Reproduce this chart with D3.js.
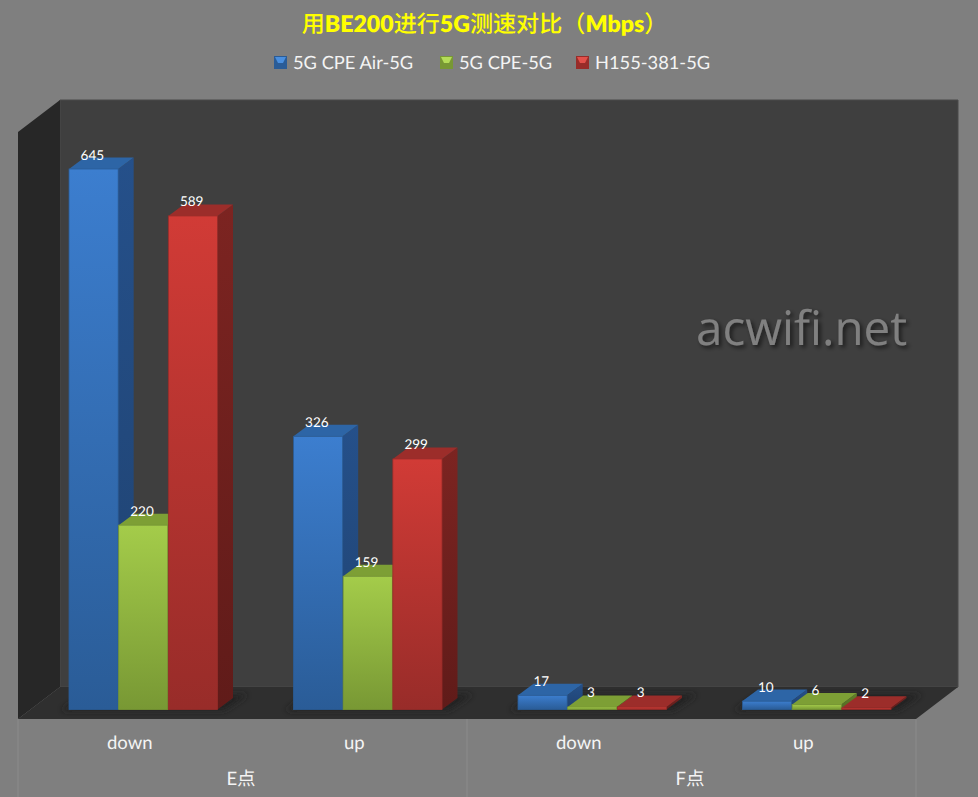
<!DOCTYPE html>
<html><head><meta charset="utf-8">
<script src="https://cdn.jsdelivr.net/npm/d3@7/dist/d3.min.js"></script>
<style>html,body{margin:0;padding:0;background:#7f7f7f;overflow:hidden}svg{display:block}
text{font-family:Lato,"Noto Sans CJK SC",sans-serif;text-rendering:geometricPrecision}</style></head><body>
<div id="chart"></div>
<script>
const categories=["down","up","down","up"];
const groups=["E点","F点"];
const seriesNames=["5G CPE Air-5G","5G CPE-5G","H155-381-5G"];
const airValues=[645,326,17,10];
const cpeValues=[220,159,3,6];
const h155Values=[589,299,3,2];
const chartTitle="用BE200进行5G测速对比（Mbps）";
const watermark="acwifi.net";

const W=978,H=797;
const L=18,R=916,FRONT=719,BASE=709.5,DX=42,DY=32,TOP=132,BDX=15.5,BDY=11.5;
const pal=[
 {id:"b",top:"#3c7ecf",bot:"#2a5c97",cap:"#2d65a6",sideT:"#25508a",sideB:"#1f4270",hi:"#4a8fdf"},
 {id:"g",top:"#a4cc4a",bot:"#789834",cap:"#7d9f35",sideT:"#637f2a",sideB:"#536b23",hi:"#b4dc58"},
 {id:"r",top:"#d13b36",bot:"#982c29",cap:"#9c2d2a",sideT:"#7c2421",sideB:"#601b19",hi:"#e2504a"}];
const values=[airValues,cpeValues,h155Values];

const svg=d3.select("#chart").append("svg").attr("width",W).attr("height",H);
svg.append("rect").attr("width",W).attr("height",H).attr("fill","#7f7f7f");
const defs=svg.append("defs");
function grad(id,a,b){const g=defs.append("linearGradient").attr("id",id).attr("x1",0).attr("y1",0).attr("x2",0).attr("y2",1);
 g.append("stop").attr("offset",0).attr("stop-color",a);g.append("stop").attr("offset",1).attr("stop-color",b);}
pal.forEach(p=>{grad("f"+p.id,p.top,p.bot);grad("s"+p.id,p.sideT,p.sideB);});
defs.append("filter").attr("id","blur").attr("x","-20%").attr("y","-100%").attr("width","140%").attr("height","300%")
 .append("feGaussianBlur").attr("stdDeviation",3);
const ds=defs.append("filter").attr("id","wm").attr("x","-10%").attr("y","-30%").attr("width","120%").attr("height","160%");
ds.append("feDropShadow").attr("dx",2.5).attr("dy",2.5).attr("stdDeviation",2).attr("flood-color","#000").attr("flood-opacity",.6);

const x0=d3.scaleBand().domain(d3.range(categories.length)).range([L,R]);
const x1=d3.scaleBand().domain(d3.range(seriesNames.length)).range([51,200]);
const y=d3.scaleLinear().domain([0,645]).range([BASE,169]);
const poly=pts=>"M"+pts.map(p=>p.join(",")).join("L")+"Z";

// walls and floor
svg.append("path").attr("d",poly([[L+DX,TOP-DY],[R+DX,TOP-DY],[R+DX,FRONT-DY],[L+DX,FRONT-DY]])).attr("fill","#3f3f3f").attr("stroke","#4b4b4b").attr("stroke-width",1);
svg.append("path").attr("d",poly([[L,TOP],[L+DX,TOP-DY],[L+DX,FRONT-DY],[L,FRONT]])).attr("fill","#272727");
svg.append("path").attr("d",poly([[L,FRONT],[L+DX,FRONT-DY],[R+DX,FRONT-DY],[R,FRONT]])).attr("fill","#2f2f2f");

// floor shadows
svg.append("g").attr("filter","url(#blur)").selectAll("path").data(d3.range(categories.length)).join("path")
 .attr("d",i=>{const a=x0(i)+x1(0),b=a+x1.bandwidth()*3;
   return poly([[a-8,BASE+1],[b+6,BASE+1],[b+30,BASE-15],[a+16,BASE-15]]);})
 .attr("fill","#232323");

// axis separators
svg.append("g").selectAll("line").data([L,x0(2),R]).join("line")
 .attr("x1",d=>d).attr("x2",d=>d).attr("y1",FRONT).attr("y2",H).attr("stroke","#8c8c8c").attr("stroke-width",1);

// bars
const cats=svg.append("g");
d3.range(categories.length).forEach(i=>{
 const g=cats.append("g");
 [0,1,2].forEach(s=>{
  const v=values[s][i],p=pal[s],x=x0(i)+x1(s),w=x1.bandwidth()-.5,t=y(v),b=y(0);
  g.append("path").attr("d",poly([[x+w,t],[x+w+BDX,t-BDY],[x+w+BDX,b-BDY],[x+w,b]])).attr("fill",`url(#s${p.id})`);
  g.append("path").attr("d",poly([[x,t],[x+BDX,t-BDY],[x+w+BDX,t-BDY],[x+w,t]])).attr("fill",p.cap);
  g.append("rect").attr("x",x).attr("y",t).attr("width",w).attr("height",b-t).attr("fill",`url(#f${p.id})`)
   .attr("stroke",p.bot).attr("stroke-width",.8);
 });
});

// data labels
const labels=svg.append("g").attr("fill","#fff").attr("font-size",13.5).attr("text-anchor","middle");
d3.range(categories.length).forEach(i=>[0,1,2].forEach(s=>{
 labels.append("text").attr("x",x0(i)+x1(s)+x1.bandwidth()/2-1.5).attr("y",y(values[s][i])-9.5).text(values[s][i]);
}));

// axis labels
svg.append("g").attr("fill","#f4f4f4").attr("font-size",18.5).attr("text-anchor","middle")
 .selectAll("text").data(categories).join("text").attr("x",(d,i)=>x0(i)+x0.bandwidth()/2-.5).attr("y",749).text(d=>d);
const gScale=d3.scaleBand().domain(groups).range([L,R]);
svg.append("g").attr("fill","#f4f4f4").attr("font-size",18.5).attr("text-anchor","middle")
 .selectAll("text").data(groups).join("text").attr("x",d=>gScale(d)+gScale.bandwidth()/2-1.5).attr("y",785).text(d=>d);

// title: latin runs bold, CJK runs regular
const title=svg.append("text").attr("x",484.5).attr("y",32).attr("text-anchor","middle").attr("fill","#ffff00").attr("font-size",23.1);
title.selectAll("tspan").data(chartTitle.match(/[A-Za-z0-9]+|[^A-Za-z0-9]+/g)).join("tspan")
 .attr("font-weight",d=>/[A-Za-z0-9]/.test(d)?800:500).text(d=>d);

// legend
const legX=[274,440,576];
const leg=svg.append("g").selectAll("g").data(seriesNames).join("g").attr("transform",(d,i)=>`translate(${legX[i]},56)`);
leg.append("rect").attr("width",13).attr("height",13).attr("fill",(d,i)=>pal[i].bot);
leg.append("path").attr("d",poly([[1,1],[12,1],[9,7],[4,7]])).attr("fill",(d,i)=>pal[i].hi);
leg.append("text").attr("x",19).attr("y",13).attr("font-size",18.3).attr("fill","#f4f4f4").text(d=>d);

// watermark
svg.append("text").attr("x",696).attr("y",345).style("font-family","'Open Sans'").attr("font-size",47.5)
 .attr("fill","#808080").attr("filter","url(#wm)").text(watermark);
</script>
</body></html>
